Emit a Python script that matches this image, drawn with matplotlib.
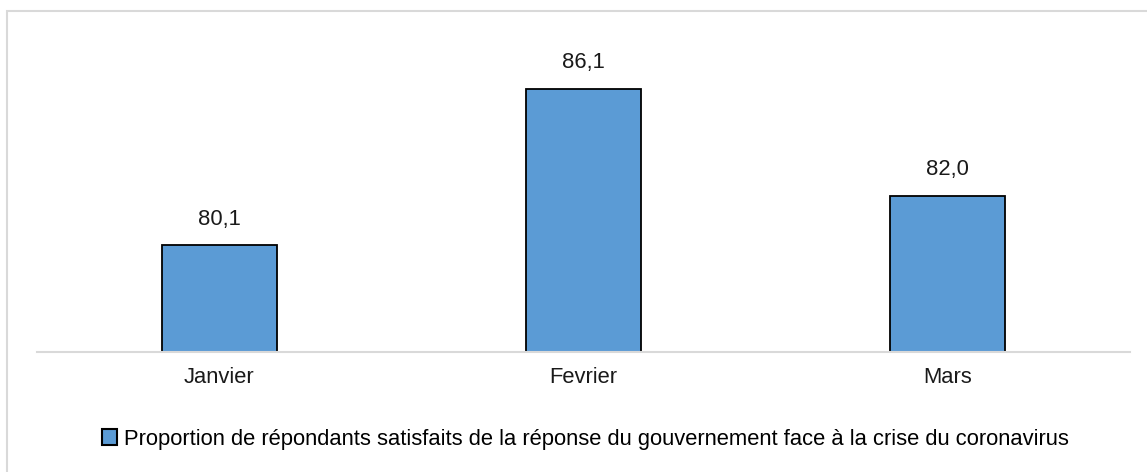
import matplotlib
matplotlib.use('Agg')
import matplotlib.pyplot as plt
from matplotlib.patches import Rectangle, Patch

# data
mois = ['Janvier', 'Fevrier', 'Mars']
valeurs = [80.1, 86.1, 82.0]
etiquettes = ['80,1', '86,1', '82,0']
serie = 'Proportion de répondants satisfaits de la réponse du gouvernement face à la crise du coronavirus'

plt.rcParams['font.family'] = ['Liberation Sans', 'DejaVu Sans']
fs = 15.8

W, H = 1147, 472
fig = plt.figure(figsize=(W / 100, H / 100), dpi=100)

# light grey frame around the chart (runs off the right/bottom edge)
fig.patches.append(Rectangle((7 / W, -0.1), 1.1, 1 - 11 / H + 0.1, transform=fig.transFigure,
                             fill=False, edgecolor='#D9D9D9', linewidth=1.5))

ax = fig.add_axes([37 / W, 120 / H, (1130 - 37) / W, (352 - 39) / H])
x = list(range(len(mois)))
ax.bar(x, valeurs, width=0.316, bottom=0, color='#5B9BD5', edgecolor='black', linewidth=1.3, zorder=2)
ax.set_ylim(76, 88)
ax.set_xlim(-0.5, 2.5)

for xi, v, lab in zip(x, valeurs, etiquettes):
    ax.annotate(lab, (xi, v), xytext=(0, 11), textcoords='offset points',
                ha='center', va='bottom', fontsize=fs, color='#1a1a1a')

ax.set_xticks(x)
ax.set_xticklabels(mois, fontsize=fs, color='#1a1a1a')
ax.tick_params(axis='x', length=0, pad=11)
ax.set_yticks([])
for s in ['top', 'right', 'left']:
    ax.spines[s].set_visible(False)
ax.spines['bottom'].set_color('#D9D9D9')
ax.spines['bottom'].set_linewidth(1.5)

handle = Patch(facecolor='#5B9BD5', edgecolor='black', linewidth=1.5)
fig.legend([handle], [serie], loc='center', bbox_to_anchor=(585 / W, 1 - 439 / H),
           frameon=False, fontsize=fs, handlelength=0.7, handleheight=0.7,
           handletextpad=0.3, borderpad=0)

fig.savefig('out.png', dpi=100)
